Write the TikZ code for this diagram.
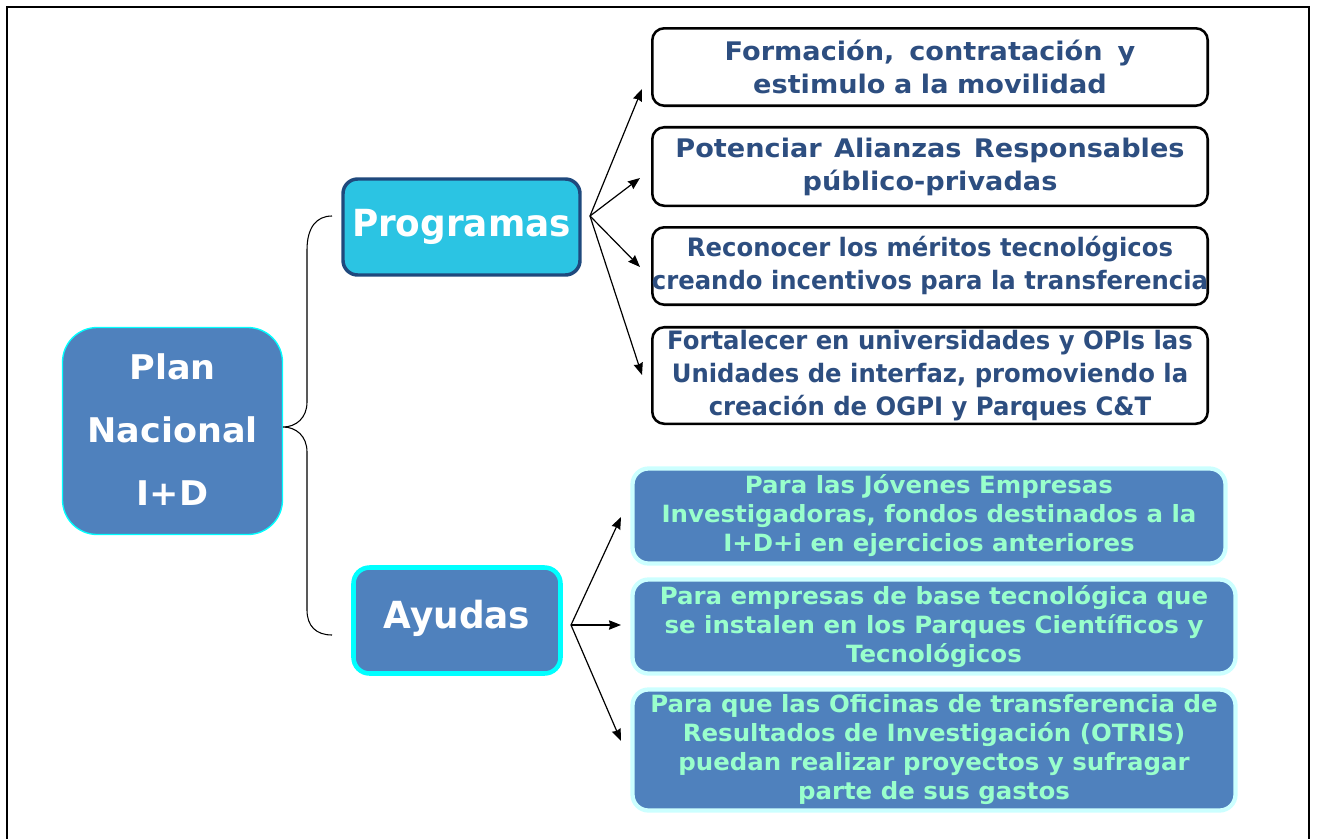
\documentclass[tikz,border=0pt]{standalone}
\usepackage{fontspec}
\usetikzlibrary{arrows.meta}
\newfontfamily\fwa{DejaVu Sans Bold}[FakeStretch=1.06]
\newfontfamily\fwb{DejaVu Sans Bold}[FakeStretch=0.96]
\newfontfamily\fbl{DejaVu Sans Bold}[FakeStretch=1.03]
\newfontfamily\fpl{DejaVu Sans Bold}[FakeStretch=1.03]
\newfontfamily\fpr{DejaVu Sans Bold}[FakeStretch=0.96]
\definecolor{nblue}{RGB}{79,129,189}
\definecolor{pcyan}{RGB}{43,196,227}
\definecolor{pborder}{RGB}{31,73,125}
\definecolor{tdark}{RGB}{45,78,128}
\definecolor{tgreen}{RGB}{153,255,204}
\definecolor{lcyan}{RGB}{204,255,255}
\definecolor{cyanb}{RGB}{0,255,255}
\tikzset{
  wbox/.style={draw=black, line width=1.9pt, rounded corners=9pt, fill=white,
    text=tdark, align=center, inner sep=0pt, text width=416.6pt},
  bbox/.style={draw=lcyan, line width=3.2pt, rounded corners=12pt, fill=nblue,
    text=tgreen, align=center, inner sep=0pt},
  planbox/.style={draw=cyanb, line width=1pt, rounded corners=26pt, fill=nblue,
    text=white, align=center, inner sep=0pt},
  progbox/.style={draw=pborder, line width=2.6pt, rounded corners=11pt, fill=pcyan,
    text=white, align=center, inner sep=0pt},
  ayubox/.style={draw=cyanb, line width=3.4pt, rounded corners=12pt, fill=nblue,
    text=white, align=center, inner sep=0pt},
  arr/.style={-{Stealth[length=9pt,width=7pt,inset=0.8pt]}, line width=0.9pt},
  wfa/.style={font=\fwa\fontsize{19.2pt}{24.75pt}\selectfont},
  wfb/.style={font=\fwb\fontsize{19pt}{24.75pt}\selectfont},
  bf/.style={font=\fbl\fontsize{17.8pt}{21.75pt}\selectfont},
}
\newcommand{\myctrline}[1]{\makebox[\linewidth][c]{#1}}
\begin{document}
\begin{tikzpicture}[x=0.75pt,y=-0.75pt]
\useasboundingbox (0,0) rectangle (1318,839);
% frame
\coordinate (fa) at (7,839);
\coordinate (fb) at (7,7);
\coordinate (fc) at (1309,7);
\coordinate (fd) at (1309,839);
\draw[line width=1.9pt] (fa) -- (fb) -- (fc) -- (fd);

% main nodes
\node[planbox, minimum width=165pt, minimum height=155.25pt,
  font=\fpl\fontsize{25.5pt}{47.25pt}\selectfont] (plan) at (172.5,431) {\raisebox{2pt}{Plan}\\\raisebox{2pt}{Nacional}\\\raisebox{2pt}{I+D}};
\node[progbox, minimum width=177.75pt, minimum height=72pt,
  font=\fpr\fontsize{28pt}{33pt}\selectfont] (prog) at (461.5,227) {Programas};
\node[ayubox, minimum width=155.25pt, minimum height=79.5pt,
  font=\fpr\fontsize{28pt}{33pt}\selectfont] (ayu) at (457,620.5) {\raisebox{9pt}{Ayudas}};

% Programas children
\node[wbox, wfa, minimum height=58.1pt] (w1) at (930,67)
  {\myctrline{Formación,\hspace{0.25em} contratación\hspace{0.25em} y}\\\myctrline{estimulo a la movilidad}};
\node[wbox, wfa, minimum height=58.9pt] (w2) at (930,166.5)
  {\myctrline{Potenciar\hspace{0.15em} Alianzas\hspace{0.15em} Responsables}\\\myctrline{público-privadas}};
\node[wbox, wfb, minimum height=58.1pt] (w3) at (930,266)
  {\myctrline{Reconocer los méritos tecnológicos}\\\myctrline{creando incentivos para la transferencia}};
\node[wbox, wfb, minimum height=72.4pt] (w4) at (930,375.5)
  {\myctrline{Fortalecer en universidades y OPIs las}\\\myctrline{Unidades de interfaz, promoviendo la}\\\myctrline{creación de OGPI y Parques C\&T}};

% Ayudas children
\node[bbox, bf, minimum width=444.75pt, minimum height=71.25pt] (b1) at (929,516)
  {\raisebox{-2pt}{Para las Jóvenes Empresas}\\\raisebox{-2pt}{Investigadoras, fondos destinados a la}\\\raisebox{-2pt}{I+D+i en ejercicios anteriores}};
\node[bbox, bf, minimum width=452.25pt, minimum height=70.5pt] (b2) at (934,626.5)
  {\raisebox{-2pt}{Para empresas de base tecnológica que}\\\raisebox{-2pt}{se instalen en los Parques Científicos y}\\\raisebox{-2pt}{Tecnológicos}};
\node[bbox, bf, minimum width=452.25pt, minimum height=90.75pt] (b3) at (934,750)
  {\raisebox{-2pt}{Para que las Oficinas de transferencia de}\\\raisebox{-2pt}{Resultados de Investigación (OTRIS)}\\\raisebox{-2pt}{puedan realizar proyectos y sufragar}\\\raisebox{-2pt}{parte de sus gastos}};

% brace
\coordinate (bt) at (332,216);
\coordinate (bc) at (283,427);
\coordinate (bb) at (332,635);
\draw[line width=0.8pt] (bt) .. controls (316,216) and (307,228) .. (307,250)
  -- (307,402) .. controls (307,418) and (296,427) .. (bc)
  .. controls (296,427) and (307,436) .. (307,452)
  -- (307,610) .. controls (307,626) and (316,635) .. (bb);

% arrows from Programas
\coordinate (ps) at (590,216);
\coordinate (pt1) at (642,89);
\coordinate (pt2) at (640,178);
\coordinate (pt3) at (640,267);
\coordinate (pt4) at (642,375);
\foreach \t in {pt1,pt2,pt3,pt4} \draw[arr] (ps) -- (\t);

% arrows from Ayudas
\coordinate (as) at (571,625);
\coordinate (at1) at (621,517);
\coordinate (at2) at (621,625);
\coordinate (at3) at (621,741);
\foreach \t in {at1,at2,at3} \draw[arr] (as) -- (\t);
\end{tikzpicture}
\end{document}
